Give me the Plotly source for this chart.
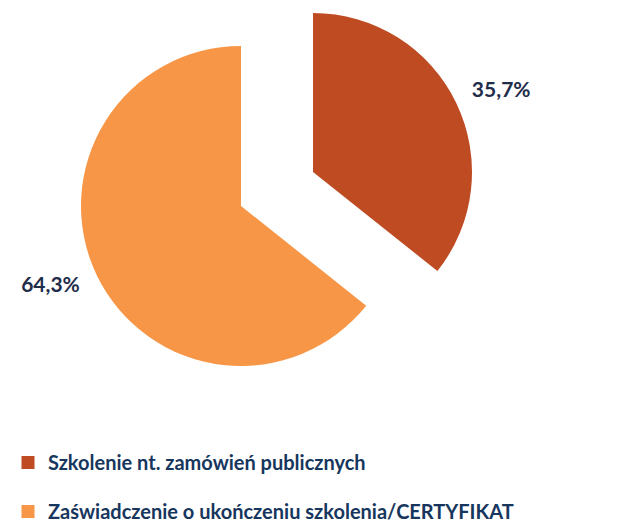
import plotly.graph_objects as go

labels = ["Szkolenie nt. zamówień publicznych", "Zaświadczenie o ukończeniu szkolenia/CERTYFIKAT"]
values = [35.7, 64.3]
colors = ["#BF4B22", "#F79646"]

LABEL_COLOR = "#1F2D4A"
LEGEND_COLOR = "#17365D"
FONT = "Lato"
W, H = 619, 522
CLEAR = "rgba(0,0,0,0)"

# slice geometry (pixels within the figure): centre x, centre y, radius
geom = [(305, 164, 159), (233, 198, 160)]
# circle on which each percentage label is set: centre x, centre y, radius
label_geom = [(327, 146, 145), (233, 198, 172)]


def dom(cx, cy, r):
    return dict(x=[(cx - r) / W, (cx + r) / W], y=[1 - (cy + r) / H, 1 - (cy - r) / H])


fig = go.Figure()
for i, (cx, cy, r) in enumerate(geom):
    cols = [CLEAR] * len(values)
    cols[i] = colors[i]
    fig.add_trace(go.Pie(
        labels=labels, values=values, sort=False, direction="clockwise", rotation=0,
        marker=dict(colors=cols, line=dict(width=0)),
        textinfo="none", domain=dom(cx, cy, r),
        showlegend=False, hoverinfo="label+percent",
    ))
    tmpl = [""] * len(values)
    tmpl[i] = "%{percent:.1%}"
    fig.add_trace(go.Pie(
        labels=labels, values=values, sort=False, direction="clockwise", rotation=0,
        marker=dict(colors=[CLEAR] * len(values), line=dict(width=0)),
        texttemplate=tmpl, textposition="outside",
        outsidetextfont=dict(family=FONT, size=21, color=LABEL_COLOR, weight="bold"),
        domain=dom(*label_geom[i]),
        showlegend=False, hoverinfo="skip",
    ))

for i, lab in enumerate(labels):
    fig.add_trace(go.Scatter(
        x=[-10], y=[-10], mode="markers", name=lab, legendgroup=f"g{i}",
        marker=dict(symbol="square", size=13, color=colors[i]),
        hoverinfo="skip",
    ))

fig.update_layout(
    width=W, height=H, margin=dict(l=0, r=0, t=0, b=0, autoexpand=False),
    paper_bgcolor="white", plot_bgcolor="white",
    separators=", ",
    xaxis=dict(visible=False, range=[0, 1], autorange=False, fixedrange=True),
    yaxis=dict(visible=False, range=[0, 1], autorange=False, fixedrange=True),
    legend=dict(
        x=0.0, y=1 - 435 / H,
        xanchor="left", yanchor="top", orientation="v", tracegroupgap=20,
        font=dict(family=FONT, size=20, color=LEGEND_COLOR, weight="bold"),
        bgcolor="rgba(0,0,0,0)",
    ),
)

fig.write_html("out.html")
